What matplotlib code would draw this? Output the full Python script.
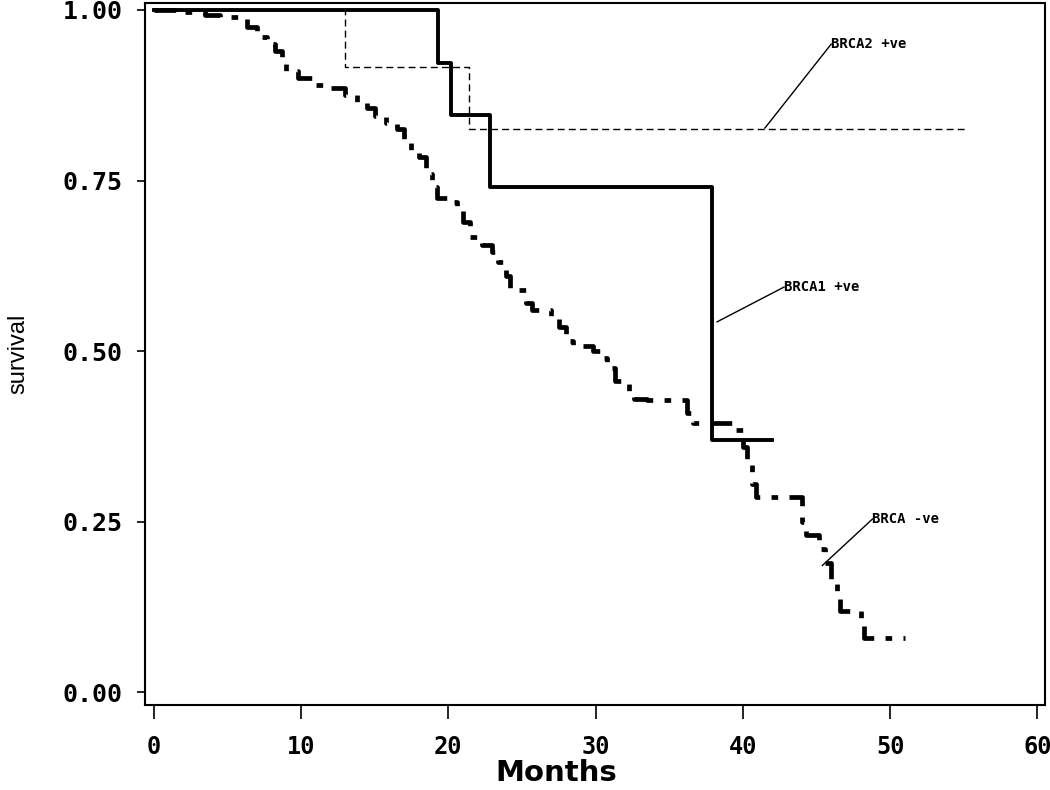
import matplotlib
matplotlib.use("Agg")
import matplotlib.pyplot as plt

# ---- data ----
brca1_t = [0, 19.3, 20.2, 22.8, 37.9, 42.0]
brca1_s = [1.0, 0.923, 0.846, 0.740, 0.370, 0.370]

brca2_t = [0, 13.0, 21.4, 55.2]
brca2_s = [1.0, 0.917, 0.826, 0.826]

neg_t = [0, 2.0, 3.5, 4.5, 6.3, 7.0, 7.7, 8.2, 8.7, 9.0, 9.8, 11.0, 12.0, 13.0,
         13.8, 14.5, 15.0, 15.8, 16.5, 17.0, 17.5, 18.0, 18.5, 18.9, 19.2, 20.0,
         20.6, 21.0, 21.5, 22.3, 23.0, 23.4, 23.9, 24.2, 25.3, 25.7, 27.0, 27.5,
         28.0, 28.5, 29.8, 30.3, 30.8, 31.3, 32.3, 32.6, 33.5, 36.2, 36.6, 39.5,
         40.0, 40.3, 40.6, 40.9, 44.0, 44.3, 45.2, 45.6, 46.0, 46.4, 46.6, 48.0,
         48.2, 51.0]
neg_s = [1.0, 0.997, 0.993, 0.99, 0.975, 0.96, 0.95, 0.94, 0.925, 0.91, 0.90,
         0.89, 0.885, 0.875, 0.865, 0.857, 0.845, 0.835, 0.825, 0.81, 0.795,
         0.785, 0.76, 0.74, 0.725, 0.718, 0.705, 0.69, 0.668, 0.655, 0.645,
         0.63, 0.61, 0.59, 0.57, 0.56, 0.55, 0.535, 0.515, 0.508, 0.50, 0.49,
         0.475, 0.457, 0.44, 0.43, 0.428, 0.41, 0.395, 0.385, 0.36, 0.34, 0.305,
         0.287, 0.25, 0.23, 0.21, 0.19, 0.16, 0.14, 0.12, 0.105, 0.08, 0.08]

x_ticks = [0, 10, 20, 30, 40, 50, 60]
y_ticks = [0.0, 0.25, 0.50, 0.75, 1.00]
y_tick_labels = ["0.00", "0.25", "0.50", "0.75", "1.00"]

labels = ["BRCA2 +ve", "BRCA1 +ve", "BRCA -ve"]
label_text_xy = [(46.0, 0.95), (42.8, 0.594), (48.8, 0.254)]
label_point_xy = [(41.5, 0.827), (38.25, 0.543), (45.4, 0.186)]

# ---- figure ----
fig = plt.figure(figsize=(10.5, 7.9), dpi=100)
ax = fig.add_axes([0.138, 0.108, 0.857, 0.888])

ax.step(neg_t, neg_s, where="post", color="black", lw=3.4,
        linestyle=(0, (4.6, 2.4, 1.4, 2.4)), solid_capstyle="butt")
ax.step(brca2_t, brca2_s, where="post", color="black", lw=1.0,
        linestyle=(0, (5, 3)))
ax.step(brca1_t, brca1_s, where="post", color="black", lw=2.8)

for lab, (tx, ty), (px, py) in zip(labels, label_text_xy, label_point_xy):
    ax.plot([px, tx], [py, ty], color="black", lw=1.0)
    ax.text(tx, ty, lab, fontsize=10, fontweight="bold",
            family="DejaVu Sans Mono", ha="left", va="center")

ax.set_xlim(-0.6, 60.5)
ax.set_ylim(-0.018, 1.01)
ax.set_xticks(x_ticks)
ax.set_xticklabels([str(v) for v in x_ticks], fontsize=17, fontweight="bold",
                   family="DejaVu Sans Mono")
ax.set_yticks(y_ticks)
ax.set_yticklabels(y_tick_labels, fontsize=18, fontweight="bold",
                   family="DejaVu Sans Mono")
ax.tick_params(axis="x", direction="out", length=10, width=1.2, pad=12)
ax.tick_params(axis="y", direction="out", length=6, width=1.2, pad=10)
for sp in ax.spines.values():
    sp.set_linewidth(1.5)

ax.set_xlabel("Months", fontsize=21, fontweight="bold", family="DejaVu Sans")
ax.xaxis.set_label_coords(0.457, -0.078)
ax.set_ylabel("survival", fontsize=17, family="Liberation Sans")
ax.yaxis.set_label_coords(-0.128, 0.5)

fig.savefig("out.png", dpi=100)
